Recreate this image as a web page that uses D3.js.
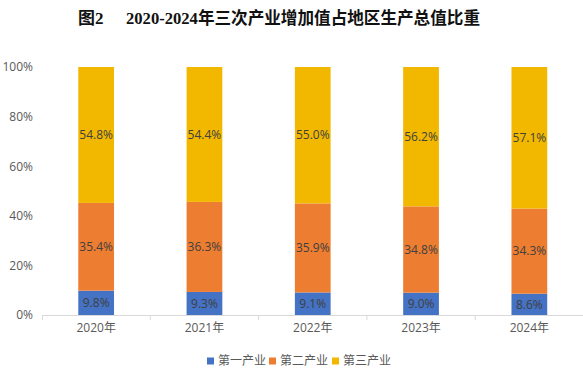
<!DOCTYPE html>
<html><head><meta charset="utf-8">
<script src="https://cdn.jsdelivr.net/npm/d3@7"></script>
<style>body{margin:0;background:#fff}svg{display:block}</style>
</head><body>
<svg id="c" width="583" height="379"></svg>
<script>
const categories = ["2020年","2021年","2022年","2023年","2024年"];
const seriesNames = ["第一产业","第二产业","第三产业"];
const primary = [9.8, 9.3, 9.1, 9.0, 8.6];
const secondary = [35.4, 36.3, 35.9, 34.8, 34.3];
const tertiary = [54.8, 54.4, 55.0, 56.2, 57.1];
const yTicks = [0, 20, 40, 60, 80, 100];
const colors = ["#4472C4", "#ED7D31", "#F2B800"];

const svg = d3.select("#c");
const x = d3.scaleBand().domain(categories).range([42, 583.5]).paddingInner(0.67).paddingOuter(0.335);
const y = d3.scaleLinear().domain([0, 100]).range([315, 67]);

// title
const title = svg.append("g").attr("font-family", "'Liberation Serif','Noto Sans CJK SC',serif")
  .attr("font-weight", "bold").attr("font-size", 17).attr("fill", "#111");
title.append("text").attr("x", 78).attr("y", 24).text("图2");
title.append("text").attr("x", 126).attr("y", 24).attr("textLength", 354).attr("lengthAdjust", "spacingAndGlyphs")
  .text("2020-2024年三次产业增加值占地区生产总值比重");

// y axis labels
const yAxis = d3.axisLeft(y).tickValues(yTicks).tickFormat(d => d + "%").tickSize(0).tickPadding(0);
const ga = svg.append("g").attr("transform", "translate(33,0)").call(yAxis);
ga.select(".domain").remove();
ga.selectAll("text").attr("font-family", "'Open Sans','DejaVu Sans',sans-serif").attr("font-size", 12).attr("fill", "#595959");

// x axis
const xAxis = d3.axisBottom(x).tickSize(0).tickPadding(8);
const gx = svg.append("g").attr("transform", "translate(0,315)").call(xAxis);
gx.select(".domain").attr("stroke", "#d9d9d9");
gx.selectAll("text").attr("font-family", "'Open Sans','Noto Sans CJK SC',sans-serif").attr("font-size", 12).attr("fill", "#595959");
// category separators
svg.append("g").selectAll("line").data(categories.slice(1)).join("line")
  .attr("x1", d => x(d) + x.bandwidth()/2 - x.step()/2).attr("x2", d => x(d) + x.bandwidth()/2 - x.step()/2)
  .attr("y1", 315).attr("y2", 320).attr("stroke", "#d9d9d9");
svg.append("line").attr("x1", 42.5).attr("x2", 42.5).attr("y1", 315).attr("y2", 320).attr("stroke", "#d9d9d9");

// stack
const rows = categories.map((c, i) => ({cat: c, s0: primary[i], s1: secondary[i], s2: tertiary[i]}));
const stack = d3.stack().keys(["s0", "s1", "s2"])(rows);
const layers = svg.append("g").selectAll("g").data(stack).join("g").attr("fill", (d, i) => colors[i]);
layers.selectAll("rect").data(d => d).join("rect")
  .attr("x", d => x(d.data.cat)).attr("width", x.bandwidth())
  .attr("y", d => y(d[1])).attr("height", d => y(d[0]) - y(d[1]));

// labels
const lab = svg.append("g").attr("font-family", "'Open Sans','DejaVu Sans',sans-serif").attr("font-size", 12)
  .attr("fill", "#404040").attr("text-anchor", "middle");
stack.forEach(layer => {
  layer.forEach(d => {
    const v = d[1] - d[0];
    lab.append("text").attr("x", x(d.data.cat) + x.bandwidth()/2).attr("y", y((d[0] + d[1]) / 2))
      .attr("dy", "0.35em").text(v.toFixed(1) + "%");
  });
});

// legend
const legX = [207, 269, 332];
const leg = svg.append("g").attr("font-family", "'Noto Sans CJK SC',sans-serif").attr("font-size", 12).attr("fill", "#595959");
seriesNames.forEach((n, i) => {
  leg.append("rect").attr("x", legX[i]).attr("y", 357.5).attr("width", 7).attr("height", 7).attr("fill", colors[i]);
  leg.append("text").attr("x", legX[i] + 11).attr("y", 361).attr("dy", "0.35em").text(n);
});
</script>
</body></html>
